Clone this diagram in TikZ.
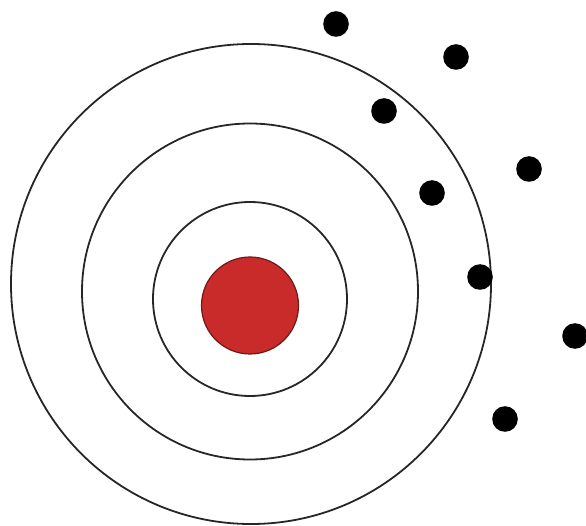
\documentclass[tikz,border=0pt]{standalone}
\definecolor{nucleus}{HTML}{C92A2A}
\definecolor{nucleusedge}{HTML}{6E1A1A}
\begin{document}
\begin{tikzpicture}[x=1pt,y=-1pt,
  ring/.style={draw=black!85,line width=1.8pt},
  particle/.style={fill=black}]
\useasboundingbox (0,0) rectangle (586,526);
\draw[ring] (251,284) circle[radius=240];
\draw[ring] (250,291.5) circle[radius=168];
\draw[ring] (250,299) circle[radius=97];
\draw[fill=nucleus,draw=nucleusedge,line width=1.2pt] (250,305.5) circle[radius=48.5];
\foreach \p in {(336,24),(456,57),(384,111),(529,169),(432,193),(480,277),(575,336),(505,419)}
  \fill[particle] \p circle[radius=12.8];
\end{tikzpicture}
\end{document}
